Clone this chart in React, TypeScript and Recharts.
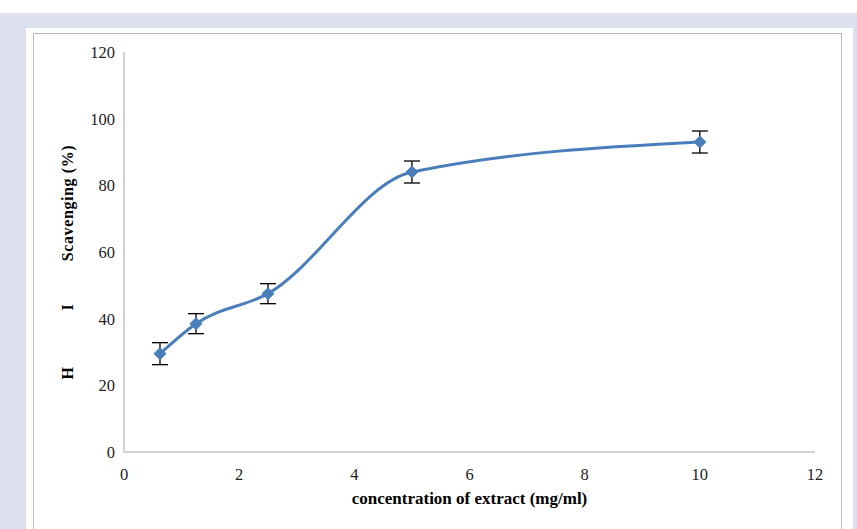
import { LineChart, Line, XAxis, YAxis, ErrorBar, Label } from 'recharts'

// concentration (mg/ml)
const concentrations = [0.625, 1.25, 2.5, 5, 10]
// scavenging (%)
const scavenging = [29.5, 38.5, 47.5, 84, 93]
const errors = [3.3, 3, 3, 3.3, 3.3]

const xTicks = [0, 2, 4, 6, 8, 10, 12]
const yTicks = [0, 20, 40, 60, 80, 100, 120]

const data = concentrations.map((c, i) => ({
  x: c,
  y: scavenging[i],
  err: errors[i],
}))

const FONT = '"Liberation Serif", "Times New Roman", serif'
const BLUE = '#4a7ebb'

const Diamond = (props: any) => {
  const { cx, cy } = props
  if (cx == null || cy == null) return null
  const r = 6
  return (
    <path
      d={`M${cx},${cy - r} L${cx + r},${cy} L${cx},${cy + r} L${cx - r},${cy} Z`}
      fill={BLUE}
      stroke={BLUE}
    />
  )
}

// y title, drawn in three pieces like the original (missing glyphs leave gaps)
const YTitle = () => {
  const x = 67
  const style = { fontFamily: FONT, fontSize: 16, fontWeight: 700, fill: '#000', letterSpacing: 0.6 }
  const parts: [string, number][] = [
    ['H', 373],
    ['I', 307],
    ['Scavenging (%)', 203],
  ]
  return (
    <g>
      {parts.map(([t, y]) => (
        <text
          key={t}
          x={x}
          y={y}
          transform={`rotate(-90 ${x} ${y})`}
          textAnchor="middle"
          dominantBaseline="central"
          style={style}
        >
          {t}
        </text>
      ))}
    </g>
  )
}

export default function App() {
  return (
    <div
      style={{
        position: 'absolute',
        left: 0,
        top: 0,
        width: 857,
        height: 529,
        background: '#fff',
        overflow: 'hidden',
      }}
    >
      {/* lavender frame */}
      <div style={{ position: 'absolute', left: 0, top: 13, width: 857, height: 516, background: '#dde1ee' }} />
      {/* white card */}
      <div style={{ position: 'absolute', left: 26, top: 28, width: 827, height: 510, background: '#fff' }} />
      {/* chart border */}
      <div
        style={{
          position: 'absolute',
          left: 33,
          top: 33,
          width: 809,
          height: 520,
          border: '1px solid #b8b8b8',
          boxSizing: 'border-box',
        }}
      />
      <div style={{ position: 'absolute', left: 0, top: 0 }}>
        <LineChart
          width={857}
          height={529}
          data={data}
          margin={{ top: 52, right: 42, bottom: 47, left: 64 }}
        >
          <XAxis
            dataKey="x"
            type="number"
            domain={[0, 12]}
            ticks={xTicks}
            tickLine={false}
            tickSize={0}
            tickMargin={16}
            axisLine={{ stroke: '#a6a6a6' }}
            tick={{ fontFamily: FONT, fontSize: 16.5, fill: '#222' }}
            height={30}
          >
            <Label
              value="concentration of extract (mg/ml)"
              position="bottom"
              offset={10}
              style={{ fontFamily: FONT, fontSize: 17, fontWeight: 700, fill: '#000' }}
            />
          </XAxis>
          <YAxis
            type="number"
            domain={[0, 120]}
            ticks={yTicks}
            tickLine={false}
            tickSize={0}
            tickMargin={9}
            axisLine={{ stroke: '#a6a6a6' }}
            tick={{ fontFamily: FONT, fontSize: 16.5, fill: '#222' }}
            width={60}
            label={<YTitle />}
          />
          <Line
            dataKey="y"
            type="monotone"
            stroke={BLUE}
            strokeWidth={3}
            dot={<Diamond />}
            activeDot={false}
            isAnimationActive={false}
          >
            <ErrorBar dataKey="err" direction="y" width={8} stroke="#000" strokeWidth={1.3} />
          </Line>
        </LineChart>
      </div>
    </div>
  )
}
